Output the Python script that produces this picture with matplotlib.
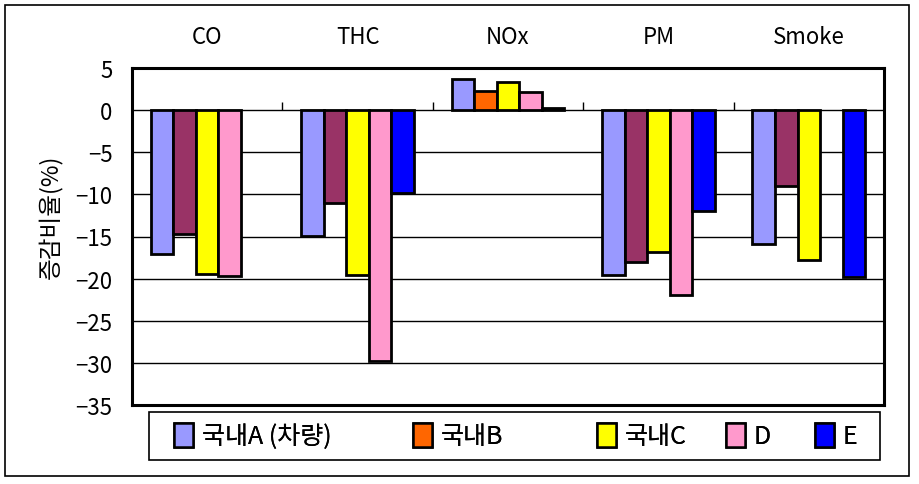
import numpy as np
import matplotlib
matplotlib.use("Agg")
import matplotlib.pyplot as plt
from matplotlib.patches import Patch, Rectangle
import matplotlib.transforms as mtransforms

plt.rcParams['font.family'] = ['Noto Sans CJK KR', 'DejaVu Sans']

# 데이터
categories = ['CO', 'THC', 'NOx', 'PM', 'Smoke']
series = ['국내A (차량)', '국내B', '국내C', 'D', 'E']
vals_a = [-17.1, -14.9, 3.7, -19.6, -15.9]
vals_b = [-14.7, -11.0, 2.3, -18.0, -9.0]
vals_c = [-19.4, -19.6, 3.3, -16.8, -17.8]
vals_d = [-19.7, -29.8, 2.2, -22.0, np.nan]
vals_e = [np.nan, -9.8, 0.2, -12.0, -19.8]
yticks = [5, 0, -5, -10, -15, -20, -25, -30, -35]

colors = ['#9999FF', '#FF6600', '#FFFF00', '#FF99CC', '#0000FF']
b_colors = ['#993366', '#993366', '#FF6600', '#993366', '#993366']

fig = plt.figure(figsize=(9.19, 4.85), dpi=100)
ax = fig.add_axes([132 / 919, 79 / 485, 752 / 919, 337 / 485])

# 바깥 테두리
fig.patches.append(Rectangle((5 / 919, 8 / 485), 904 / 919, 471 / 485,
                             transform=fig.transFigure, fill=False,
                             edgecolor='black', linewidth=1.2))

x = np.arange(len(categories))
w = 0.15
all_vals = [vals_a, vals_b, vals_c, vals_d, vals_e]
for i, v in enumerate(all_vals):
    fc = b_colors if i == 1 else colors[i]
    ax.bar(x + (i - 2) * w, v, w, color=fc, edgecolor='black',
           linewidth=2, zorder=3)

ax.set_xlim(-0.5, len(categories) - 0.5)
ax.set_ylim(-35, 5)
ax.set_yticks(yticks)
ax.set_yticklabels([str(t).replace('-', '\u2212') for t in yticks])
ax.tick_params(axis='y', length=0, pad=14, labelsize=16)
ax.set_xticks([])
for t in yticks[1:-1]:
    ax.axhline(t, color='black', linewidth=1, zorder=1)
for s in ax.spines.values():
    s.set_linewidth(2.2)

# 0선 위 눈금
ax.vlines(x[:-1] + 0.5, 0, 1.0, color='black', linewidth=1, zorder=2)

# 범주 라벨(위쪽)
trans = mtransforms.blended_transform_factory(ax.transData, fig.transFigure)
for xi, c in zip(x, categories):
    ax.text(xi, 1 - 37 / 485, c, transform=trans, ha='center', va='center',
            fontsize=16)

fig.text(50 / 919, 1 - 217 / 485, '증감비율(%)', rotation=90,
         ha='center', va='center', fontsize=17)

# 범례 상자
fig.patches.append(Rectangle((149 / 919, 24 / 485), 731 / 919, 48 / 485,
                             transform=fig.transFigure, fill=False,
                             edgecolor='black', linewidth=1.2))
leg_x = [174, 413, 597, 726, 815]
for lx, c, s in zip(leg_x, colors, series):
    h = Patch(facecolor=c, edgecolor='black', linewidth=1.8)
    lg = fig.legend([h], [s], loc='center left',
                    bbox_to_anchor=(lx / 919, 1 - 437 / 485),
                    fontsize=18, frameon=False, handlelength=0.75,
                    handleheight=1.1, handletextpad=0.35, borderpad=0,
                    borderaxespad=0)
    fig.add_artist(lg)

fig.savefig('out.png', dpi=100)
